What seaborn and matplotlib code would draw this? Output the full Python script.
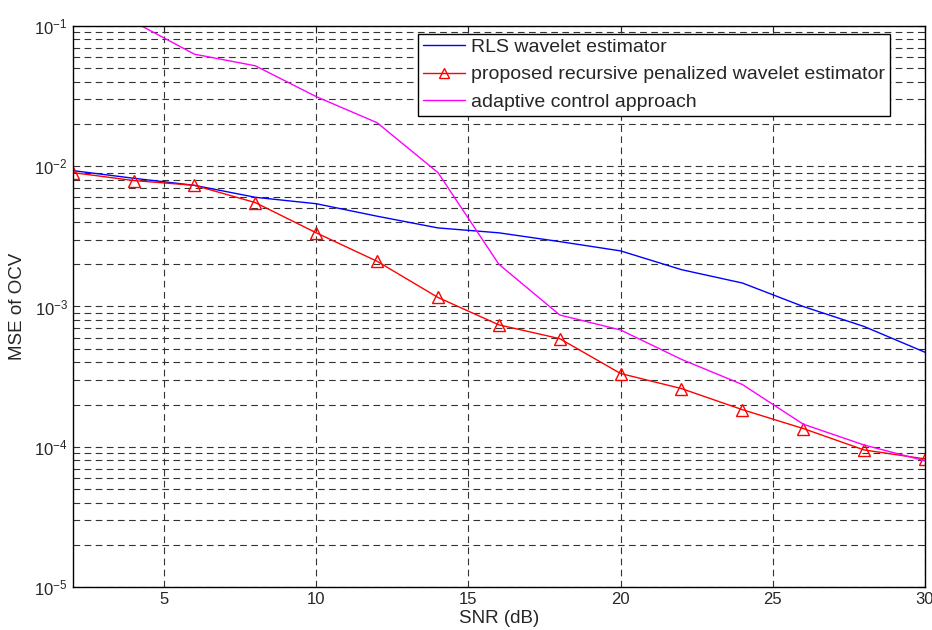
import numpy as np
import pandas as pd
import matplotlib
matplotlib.use('Agg')
import matplotlib.pyplot as plt
import seaborn as sns

snr = [2, 4, 6, 8, 10, 12, 14, 16, 18, 20, 22, 24, 26, 28, 30]
rls = [0.0093, 0.0082, 0.0073, 0.0060, 0.0054, 0.0044, 0.00363, 0.00335,
       0.0029, 0.00249, 0.00183, 0.00147, 0.0010, 0.00072, 0.000472]
proposed = [0.0090, 0.0079, 0.0073, 0.0055, 0.00335, 0.0021, 0.00116, 0.00074,
            0.00059, 0.000333, 0.00026, 0.000184, 0.000135, 0.000095, 0.000082]
snr_adaptive = [4, 6, 8, 10, 12, 14, 16, 18, 20, 22, 24, 26, 28, 30]
adaptive = [0.107, 0.0628, 0.0519, 0.0313, 0.0204, 0.0090, 0.0020, 0.00087,
            0.00068, 0.00042, 0.000278, 0.000145, 0.000103, 0.0000795]

labels = ['RLS wavelet estimator',
          'proposed recursive penalized wavelet estimator',
          'adaptive control approach']

sns.set_style('white')
plt.rcParams['font.family'] = ['Liberation Sans', 'DejaVu Sans']
plt.rcParams['mathtext.default'] = 'regular'

fig = plt.figure(figsize=(9.32, 6.3), dpi=100)
ax = fig.add_axes([0.078, 0.068, 0.9145, 0.891])

sns.lineplot(x=snr, y=rls, color='blue', lw=1, label=labels[0], ax=ax)
sns.lineplot(x=snr, y=proposed, color='red', lw=1, marker='^', markersize=9,
             markerfacecolor='none', markeredgecolor='red', markeredgewidth=1,
             label=labels[1], ax=ax)
sns.lineplot(x=snr_adaptive, y=adaptive, color='magenta', lw=1,
             label=labels[2], ax=ax)

ax.set_yscale('log')
ax.set_xlim(2, 30)
ax.set_ylim(1e-5, 1e-1)
ax.set_xticks([5, 10, 15, 20, 25, 30])
ax.grid(True, which='both', axis='y', color='0.2', linestyle=(0, (6, 4)), lw=0.8)
ax.grid(True, which='major', axis='x', color='0.2', linestyle=(0, (6, 4)), lw=0.8)
ax.tick_params(which='both', direction='in', top=True, right=True,
               labelsize=12, length=5)
ax.tick_params(which='minor', length=3)
for s in ax.spines.values():
    s.set_color('black')
    s.set_linewidth(1)

ax.set_xlabel('SNR (dB)', fontsize=13.5, labelpad=2)
ax.set_ylabel('MSE of OCV', fontsize=13.5, labelpad=6)

leg = ax.legend(loc='upper right', bbox_to_anchor=(0.959, 0.986), fontsize=14,
                fancybox=False, framealpha=1, edgecolor='black',
                borderpad=0.25, labelspacing=0.5, handlelength=2.2,
                handletextpad=0.3, borderaxespad=0, markerscale=0.75)
leg.get_frame().set_linewidth(1)

fig.savefig('out.png', dpi=100)
